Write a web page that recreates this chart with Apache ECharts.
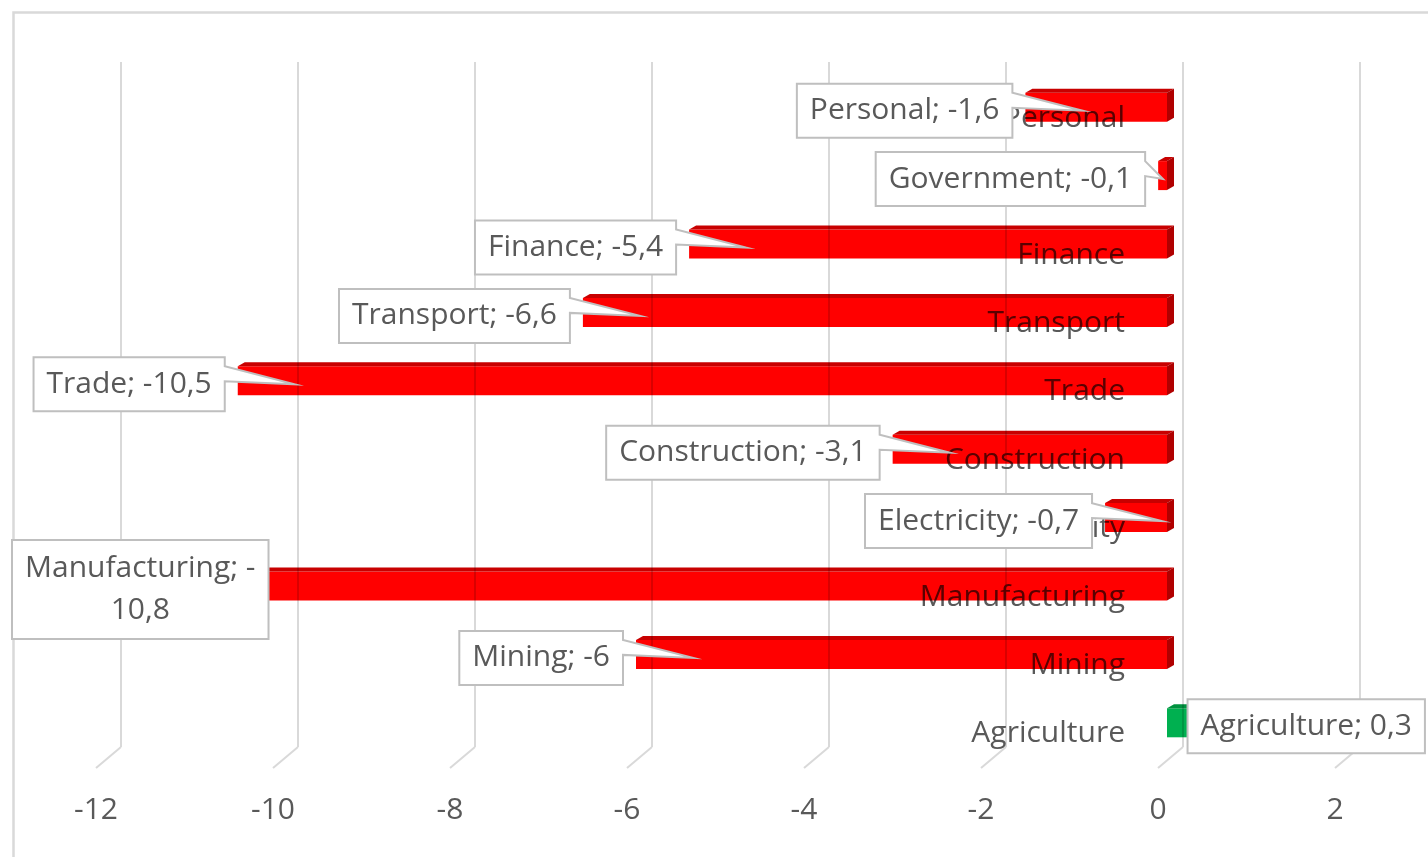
<!DOCTYPE html>
<html>
<head>
<meta charset="utf-8">
<script src="https://cdn.jsdelivr.net/npm/echarts@6/dist/echarts.min.js"></script>
<style>
  html, body { margin: 0; padding: 0; background: #ffffff; }
  #chart { width: 1428px; height: 857px; }
</style>
</head>
<body>
<div id="chart"></div>
<script>
// Sectors, top to bottom, and their change values
const categories = ['Personal', 'Government', 'Finance', 'Transport', 'Trade',
                    'Construction', 'Electricity', 'Manufacturing', 'Mining', 'Agriculture'];
const changes = [-1.6, -0.1, -5.4, -6.6, -10.5, -3.1, -0.7, -10.8, -6, 0.3];
const tickValues = [-12, -10, -8, -6, -4, -2, 0, 2];

const FONT_FAMILY = '"Open Sans", "DejaVu Sans", sans-serif';
const FONT_SIZE = 30;
const TEXT_COLOR = '#595959';
const GRID_COLOR = '#d9d9d9';
const BOX_BORDER = '#bfbfbf';

// decimal comma, as in the labels
const fmt = v => String(v).replace('.', ',');
const labelTexts = categories.map((c, i) => c + '; ' + fmt(changes[i]));

const measureCtx = document.createElement('canvas').getContext('2d');
measureCtx.font = FONT_SIZE + 'px ' + FONT_FAMILY;
const textWidth = s => measureCtx.measureText(s).width;

const barData = changes.map((v, i) => [v, i]);
const floorData = tickValues.map(v => [v, 0]);

// 3D-style bar: front face, thin top face and an end cap at zero
function renderBar(params, api) {
  const v = api.value(0), i = api.value(1);
  const zero = api.coord([0, i]);
  const end = api.coord([v, i]);
  const h = 29, dx = 7, dy = -4;
  const top = end[1] - h / 2;
  const x1 = Math.min(zero[0], end[0]);
  const x2 = Math.max(zero[0], end[0]);
  const pos = v >= 0;
  const front = pos ? '#00B050' : '#FF0000';
  const topFace = pos ? '#00923F' : '#C80000';
  const side = pos ? '#007A35' : '#B00000';
  return {
    type: 'group',
    children: [
      { type: 'polygon', shape: { points: [[x1, top], [x2, top], [x2 + dx, top + dy], [x1 + dx, top + dy]] },
        style: { fill: topFace } },
      { type: 'polygon', shape: { points: [[x2, top], [x2 + dx, top + dy], [x2 + dx, top + h + dy], [x2, top + h]] },
        style: { fill: side } },
      { type: 'rect', shape: { x: x1, y: top, width: x2 - x1, height: h },
        style: { fill: front } }
    ]
  };
}

// Callout box with a pointer wedge reaching into the bar
function renderCallout(params, api) {
  const v = api.value(0), i = api.value(1);
  const end = api.coord([v, i]);
  const zero = api.coord([0, i]);
  const padX = 13;
  let lines = [labelTexts[params.dataIndex]];
  let w = textWidth(lines[0]) + 2 * padX;
  let h = 54;
  const cy = end[1] + 3.5;
  let L, R;
  if (v < 0) {
    R = end[0] - 13;
    L = R - w;
    if (L < 12) {
      lines = [categories[i] + '; -', fmt(Math.abs(v))];
      w = Math.max(textWidth(lines[0]), textWidth(lines[1])) + 2 * padX;
      h = 99;
      L = 12;
      R = L + w;
    }
  } else {
    L = end[0] - 6;
    R = L + w;
  }
  const T = cy - h / 2, B = cy + h / 2;
  const tipX = v < 0 ? Math.min(end[0] + 57, zero[0] - 4) : L;
  let pts;
  if (tipX > R + 2) {
    pts = [[L, T], [R, T], [R, T + 9], [tipX, cy], [R, T + 24], [R, B], [L, B]];
  } else {
    pts = [[L, T], [R, T], [R, B], [L, B]];
  }
  return {
    type: 'group',
    children: [
      { type: 'polygon', shape: { points: pts },
        style: { fill: '#ffffff', stroke: BOX_BORDER, lineWidth: 2, lineJoin: 'miter' } },
      { type: 'text',
        style: { text: lines.join('\n'), x: (L + R) / 2, y: (T + B) / 2,
                 align: 'center', verticalAlign: 'middle',
                 fontSize: FONT_SIZE, fontFamily: FONT_FAMILY, lineHeight: 42, fill: TEXT_COLOR } }
    ]
  };
}

// Short floor segments where the back gridlines meet the base
function renderFloor(params, api) {
  const x = api.coord([api.value(0), 0])[0];
  const bottom = params.coordSys.y + params.coordSys.height;
  return {
    type: 'line',
    shape: { x1: x, y1: bottom, x2: x - 25, y2: bottom + 21 },
    style: { stroke: GRID_COLOR, lineWidth: 2 }
  };
}

const hiddenValueAxis = (gridIndex) => ({
  type: 'value', gridIndex, min: -12, max: 2, interval: 2,
  axisLine: { show: false }, axisTick: { show: false }, axisLabel: { show: false }, splitLine: { show: false }
});
const hiddenCatAxis = (gridIndex) => ({
  type: 'category', gridIndex, data: categories, inverse: true,
  axisLine: { show: false }, axisTick: { show: false }, axisLabel: { show: false }, splitLine: { show: false }
});

// front grid: left 96, width 1239 -> value 0 sits 1062px from its left edge
const FRONT_LEFT = 96, FRONT_RIGHT = 93;
const frontZeroOffset = (1428 - FRONT_LEFT - FRONT_RIGHT) * 12 / 14;

const chart = echarts.init(document.getElementById('chart'), null, { renderer: 'canvas' });
chart.setOption({
  backgroundColor: '#ffffff',
  animation: false,
  graphic: [{
    type: 'rect', left: 11, top: 10, z: -10, silent: true,
    shape: { width: 1440, height: 870 },
    style: { fill: 'none', stroke: GRID_COLOR, lineWidth: 2.5 }
  }],
  grid: [
    { left: 121, right: 68, top: 62, bottom: 110, outerBoundsMode: 'none' },   // back wall
    { left: 105, right: 84, top: 73, bottom: 100, outerBoundsMode: 'none' },   // bars
    { left: FRONT_LEFT, right: FRONT_RIGHT, top: 84, bottom: 89, outerBoundsMode: 'none' } // front edge
  ],
  xAxis: [
    Object.assign(hiddenValueAxis(0), { splitLine: { show: true, lineStyle: { color: GRID_COLOR, width: 2 } } }),
    hiddenValueAxis(1),
    Object.assign(hiddenValueAxis(2), {
      axisLabel: { show: true, color: TEXT_COLOR, fontSize: FONT_SIZE, fontFamily: FONT_FAMILY, margin: 27,
                   showMinLabel: true, showMaxLabel: true }
    })
  ],
  yAxis: [
    hiddenCatAxis(0),
    hiddenCatAxis(1),
    Object.assign(hiddenCatAxis(2), {
      position: 'left',
      offset: -frontZeroOffset,
      axisLabel: { show: true, interval: 0, color: TEXT_COLOR, fontSize: FONT_SIZE, fontFamily: FONT_FAMILY, margin: 33 }
    })
  ],
  series: [
    { type: 'custom', name: 'floor', xAxisIndex: 0, yAxisIndex: 0, data: floorData,
      renderItem: renderFloor, silent: true, z: 1 },
    // multiply lets the sector names behind the bars show through as a darker red
    { type: 'custom', name: 'change', xAxisIndex: 1, yAxisIndex: 1, data: barData,
      renderItem: renderBar, z: 3, blendMode: 'multiply' },
    { type: 'custom', name: 'labels', xAxisIndex: 1, yAxisIndex: 1, data: barData,
      renderItem: renderCallout, z: 5 }
  ]
});
</script>
</body>
</html>
